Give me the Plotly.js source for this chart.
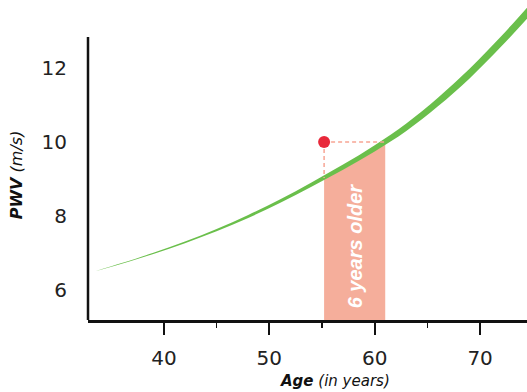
<!DOCTYPE html>
<html>
<head>
<meta charset="utf-8">
<script src="https://cdn.plot.ly/plotly-3.0.1.min.js"></script>
<style>html,body{margin:0;padding:0;background:#fff;}#chart{width:527px;height:392px;}</style>
</head>
<body>
<div id="chart"></div>
<script>
// Curve (age vs PWV band)
var ages      = [33.5, 36, 39, 42, 45, 48, 51, 54, 57, 60, 63, 66, 69, 72, 74.5];
var pwvLower  = [6.509, 6.712, 6.975, 7.268, 7.59, 7.95, 8.35, 8.79, 9.25, 9.745, 10.30, 10.965, 11.72, 12.58, 13.35];
var pwvUpper  = [6.511, 6.728, 7.005, 7.312, 7.65, 8.03, 8.45, 8.91, 9.39, 9.915, 10.50, 11.195, 11.98, 12.86, 13.65];

// Highlighted region (vascular age gap)
var gapAges = [55.2, 57, 60, 61];
var gapTop  = [9.03, 9.27, 9.77, 9.95];

// Patient point
var patientAge = [55.2];
var patientPwv = [10.0];
var vascularAge = 61;

var xTicks = [40, 50, 60, 70];
var xMinor = [45, 55, 65];
var yTicks = [6, 8, 10, 12];

var traces = [
  {x: gapAges, y: gapTop, mode: 'lines', line: {width: 0, color: '#f4ae9a', shape: 'spline'},
   fill: 'tozeroy', fillcolor: '#f5ae9b', hoverinfo: 'skip', showlegend: false},
  {x: ages, y: pwvLower, mode: 'lines', line: {width: 0, color: '#6abf4b', shape: 'spline'}, hoverinfo: 'skip', showlegend: false},
  {x: ages, y: pwvUpper, mode: 'lines', line: {width: 0, color: '#6abf4b', shape: 'spline'}, fill: 'tonexty',
   fillcolor: '#6abf4b', hoverinfo: 'skip', showlegend: false},
  {x: [patientAge[0], vascularAge], y: [patientPwv[0], patientPwv[0]], mode: 'lines',
   line: {color: '#f7a594', width: 1.5, dash: '4px,3px'}, hoverinfo: 'skip', showlegend: false},
  {x: [patientAge[0], patientAge[0]], y: [patientPwv[0], gapTop[0]], mode: 'lines',
   line: {color: '#f7a594', width: 1.5, dash: '4px,3px'}, hoverinfo: 'skip', showlegend: false},
  {x: patientAge, y: patientPwv, mode: 'markers', marker: {color: '#e8283a', size: 12},
   cliponaxis: false, hoverinfo: 'skip', showlegend: false}
];

var fam = 'DejaVu Sans, Verdana, sans-serif';

var layout = {
  width: 527, height: 392,
  margin: {l: 88, r: 0, t: 0, b: 72},
  paper_bgcolor: '#fff', plot_bgcolor: '#fff',
  showlegend: false,
  xaxis: {
    range: [32.8, 74.45], showgrid: false, zeroline: false,
    showline: true, linecolor: '#111', linewidth: 2.5,
    tickmode: 'array', tickvals: xTicks, ticktext: xTicks.map(String),
    ticks: 'outside', ticklen: 12, tickwidth: 2, tickcolor: '#111',
    minor: {tickmode: 'array', tickvals: xMinor, ticks: 'outside', ticklen: 5, tickwidth: 1.5, tickcolor: '#111'},
    ticklabelstandoff: 6,
    tickfont: {family: fam, color: '#222', size: 20}
  },
  yaxis: {
    range: [5.19, 13.84], showgrid: false, zeroline: false, showline: false,
    tickmode: 'array', tickvals: yTicks, ticktext: yTicks.map(String),
    ticks: '', ticklabelstandoff: 20,
    tickfont: {family: fam, color: '#222', size: 20}
  },
  shapes: [
    {type: 'line', xref: 'paper', yref: 'y', x0: 0, x1: 0, y0: 5.19, y1: 12.84,
     line: {color: '#111', width: 2.5}}
  ],
  annotations: [
    {text: '<b><i>6 years older</i></b>', x: (gapAges[0] + vascularAge) / 2, y: 7.2, xref: 'x', yref: 'y',
     textangle: -90, showarrow: false, font: {family: 'Liberation Sans, Arial, sans-serif', size: 20, color: '#ffffff'}},
    {text: '<b><i>Age</i></b> <i>(in years)</i>', xref: 'paper', yref: 'paper', x: 0.562, y: -0.19,
     xanchor: 'center', yanchor: 'middle', showarrow: false, font: {family: fam, color: '#111', size: 15}},
    {text: '<b><i>PWV</i></b> <i>(m/s)</i>', xref: 'paper', yref: 'paper', x: -0.162, y: 0.455,
     xanchor: 'center', yanchor: 'middle', textangle: -90, showarrow: false,
     font: {family: fam, color: '#111', size: 16}}
  ]
};

Plotly.newPlot('chart', traces, layout, {displayModeBar: false, staticPlot: true});
</script>
</body>
</html>
